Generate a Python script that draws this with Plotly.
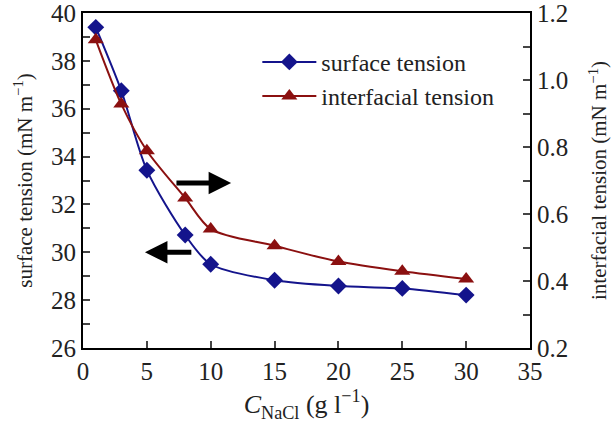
import plotly.graph_objects as go

nacl = [1, 3, 5, 8, 10, 15, 20, 25, 30]
surface_tension = [39.4, 36.75, 33.43, 30.72, 29.5, 28.83, 28.59, 28.49, 28.21]
interfacial_tension = [1.12, 0.928, 0.789, 0.648, 0.555, 0.505, 0.458, 0.429, 0.406]

FONT = "Liberation Serif"
BLUE = "#14148c"
RED = "#8b1010"

fig = go.Figure()
fig.add_trace(go.Scatter(
    x=nacl, y=surface_tension, name="surface tension",
    mode="lines+markers", line=dict(color=BLUE, width=2, shape="spline", smoothing=0.8),
    marker=dict(symbol="diamond", size=13, color=BLUE), yaxis="y"))
fig.add_trace(go.Scatter(
    x=nacl, y=interfacial_tension, name="interfacial tension",
    mode="lines+markers", line=dict(color=RED, width=2, shape="spline", smoothing=0.8),
    marker=dict(symbol="triangle-up", size=14, color=RED), yaxis="y2"))

fig.add_annotation(x=11.6, y=32.9, ax=7.2, ay=32.9, xref="x", yref="y", axref="x", ayref="y",
                   showarrow=True, arrowhead=2, arrowsize=0.9, arrowwidth=5, arrowcolor="black", text="")
fig.add_annotation(x=4.85, y=30.0, ax=8.6, ay=30.0, xref="x", yref="y", axref="x", ayref="y",
                   showarrow=True, arrowhead=2, arrowsize=0.9, arrowwidth=5, arrowcolor="black", text="")

fig.update_layout(
    width=616, height=428,
    margin=dict(l=83, r=86, t=13, b=80),
    paper_bgcolor="white", plot_bgcolor="white",
    font=dict(family=FONT, size=25, color="#222"),
    showlegend=True,
    legend=dict(x=0.39, y=0.92, xanchor="left", yanchor="top", bgcolor="rgba(0,0,0,0)",
                font=dict(family=FONT, size=24), tracegroupgap=0, itemwidth=54),
    xaxis=dict(range=[0, 35], dtick=5, ticks="inside", ticklen=7, tickwidth=2, automargin=False,
               ticklabeloverflow="allow",
               showline=True, linecolor="black", linewidth=2, mirror=True,
               showgrid=False, zeroline=False,
               title=dict(text="<i>C</i><sub>NaCl</sub> (g l<sup>−1</sup>)", font=dict(size=26), standoff=11)),
    yaxis=dict(range=[26, 40], dtick=2, ticks="inside", ticklen=7, tickwidth=2, automargin=False,
               ticklabeloverflow="allow",
               minor=dict(dtick=1, ticks="inside", ticklen=7, tickwidth=2, showgrid=False),
               showline=True, linecolor="black", linewidth=2,
               showgrid=False, zeroline=False,
               title=dict(text="surface tension (mN m<sup>−1</sup>)", font=dict(size=21), standoff=13)),
    yaxis2=dict(range=[0.2, 1.2], dtick=0.2, tickformat=".1f", overlaying="y", side="right",
                ticks="inside", ticklen=7, tickwidth=2, automargin=False,
                ticklabeloverflow="allow",
                minor=dict(dtick=0.1, ticks="inside", ticklen=7, tickwidth=2, showgrid=False),
                showline=True, linecolor="black", linewidth=2,
                showgrid=False, zeroline=False,
                title=dict(text="interfacial tension (mN m<sup>−1</sup>)", font=dict(size=21), standoff=24)),
)

# remove the page's default body margin so the figure fills the window exactly
fig.write_html("out.html", config={"displayModeBar": False},
               post_script="document.body.style.margin='0';")
